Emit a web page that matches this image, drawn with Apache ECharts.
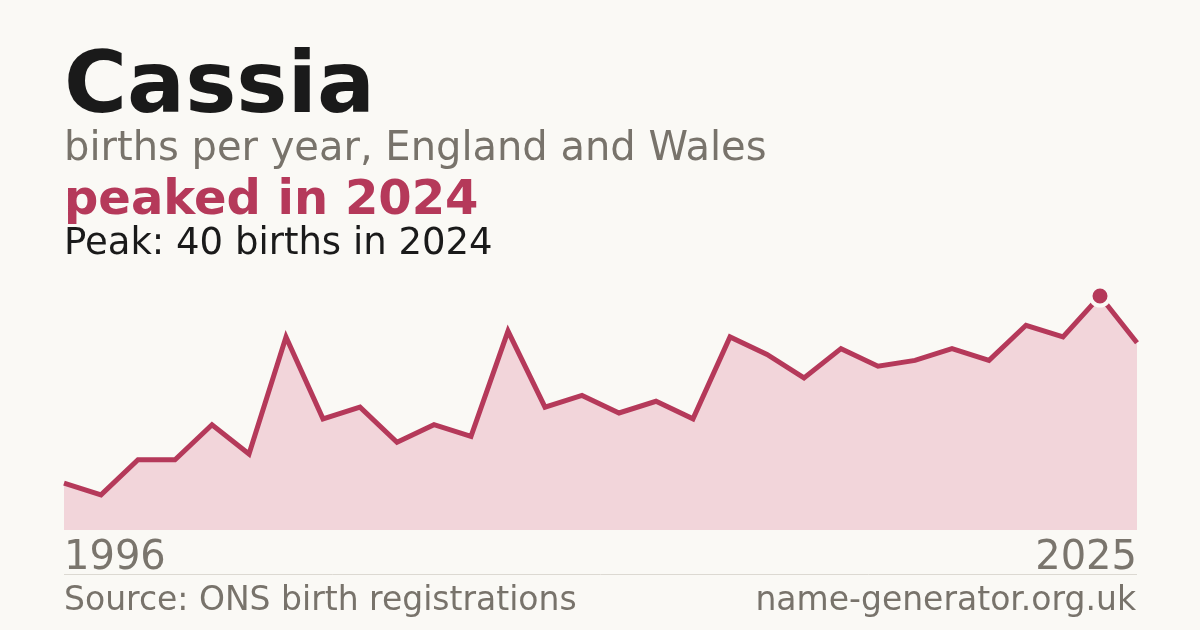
<!DOCTYPE html>
<html><head><meta charset="utf-8">
<script src="https://cdn.jsdelivr.net/npm/echarts@6/dist/echarts.min.js"></script>
<style>html,body{margin:0;padding:0;background:#faf9f5}#c{width:1200px;height:630px}</style>
</head><body><div id="c"></div>
<script>
const years = ['1996','1997','1998','1999','2000','2001','2002','2003','2004','2005','2006','2007','2008','2009','2010','2011','2012','2013','2014','2015','2016','2017','2018','2019','2020','2021','2022','2023','2024','2025'];
const births = [8,6,12,12,18,13,33,19,21,15,18,16,34,21,23,20,22,19,33,30,26,31,28,29,31,29,35,33,40,32];
const peakYear = '2024';
const titleText = 'Cassia';
const subtitleText = 'births per year, England and Wales';
const headlineText = 'peaked in 2024';
const peakText = 'Peak: 40 births in 2024';
const sourceText = 'Source: ONS birth registrations';
const siteText = 'name-generator.org.uk';

const accent = '#b5395a';
const font = 'DejaVu Sans';
const peakIdx = years.indexOf(peakYear);
const seriesData = births.map((v,i)=> i===peakIdx ? {value:v, symbol:'circle', symbolSize:19, itemStyle:{color:accent,borderColor:'#faf9f5',borderWidth:4}} : v);

const chart = echarts.init(document.getElementById('c'));
chart.setOption({
  backgroundColor:'#faf9f5',
  animation:false,
  grid:{left:64,right:63,top:296,bottom:100},
  xAxis:{type:'category',data:years,boundaryGap:false,
    axisLine:{show:false},axisTick:{show:false},splitLine:{show:false},
    axisLabel:{interval:(i)=> i===0 || i===years.length-1, color:'#7a756d',fontFamily:font,fontSize:40,margin:9,
      alignMinLabel:'left',alignMaxLabel:'right',showMinLabel:true,showMaxLabel:true}},
  yAxis:{type:'value',min:0,max:40,show:false,splitLine:{show:false}},
  series:[{type:'line',data:seriesData,clip:false,showSymbol:true,symbol:'none',
    lineStyle:{color:accent,width:5,join:'miter'},
    areaStyle:{color:'#f2d5da',opacity:1},
    itemStyle:{color:accent}}],
  graphic:[
    {type:'text',x:64,y:47,style:{text:titleText,font:'bold 86px "DejaVu Sans"',fill:'#1a1a1a'}},
    {type:'text',x:64,y:130,style:{text:subtitleText,font:'40px "DejaVu Sans"',fill:'#78736b'}},
    {type:'text',x:64,y:178,style:{text:headlineText,font:'bold 48px "DejaVu Sans"',fill:accent}},
    {type:'text',x:64,y:226,style:{text:peakText,font:'37px "DejaVu Sans"',fill:'#1a1a1a'}},
    {type:'line',shape:{x1:64,y1:574.5,x2:1137,y2:574.5},style:{stroke:'#dcd9d2',lineWidth:1}},
    {type:'text',x:64,y:585,style:{text:sourceText,font:'33px "DejaVu Sans"',fill:'#78736b'}},
    {type:'text',x:1136,y:585,style:{text:siteText,font:'33px "DejaVu Sans"',fill:'#78736b',textAlign:'right'}}
  ]
});
</script></body></html>
